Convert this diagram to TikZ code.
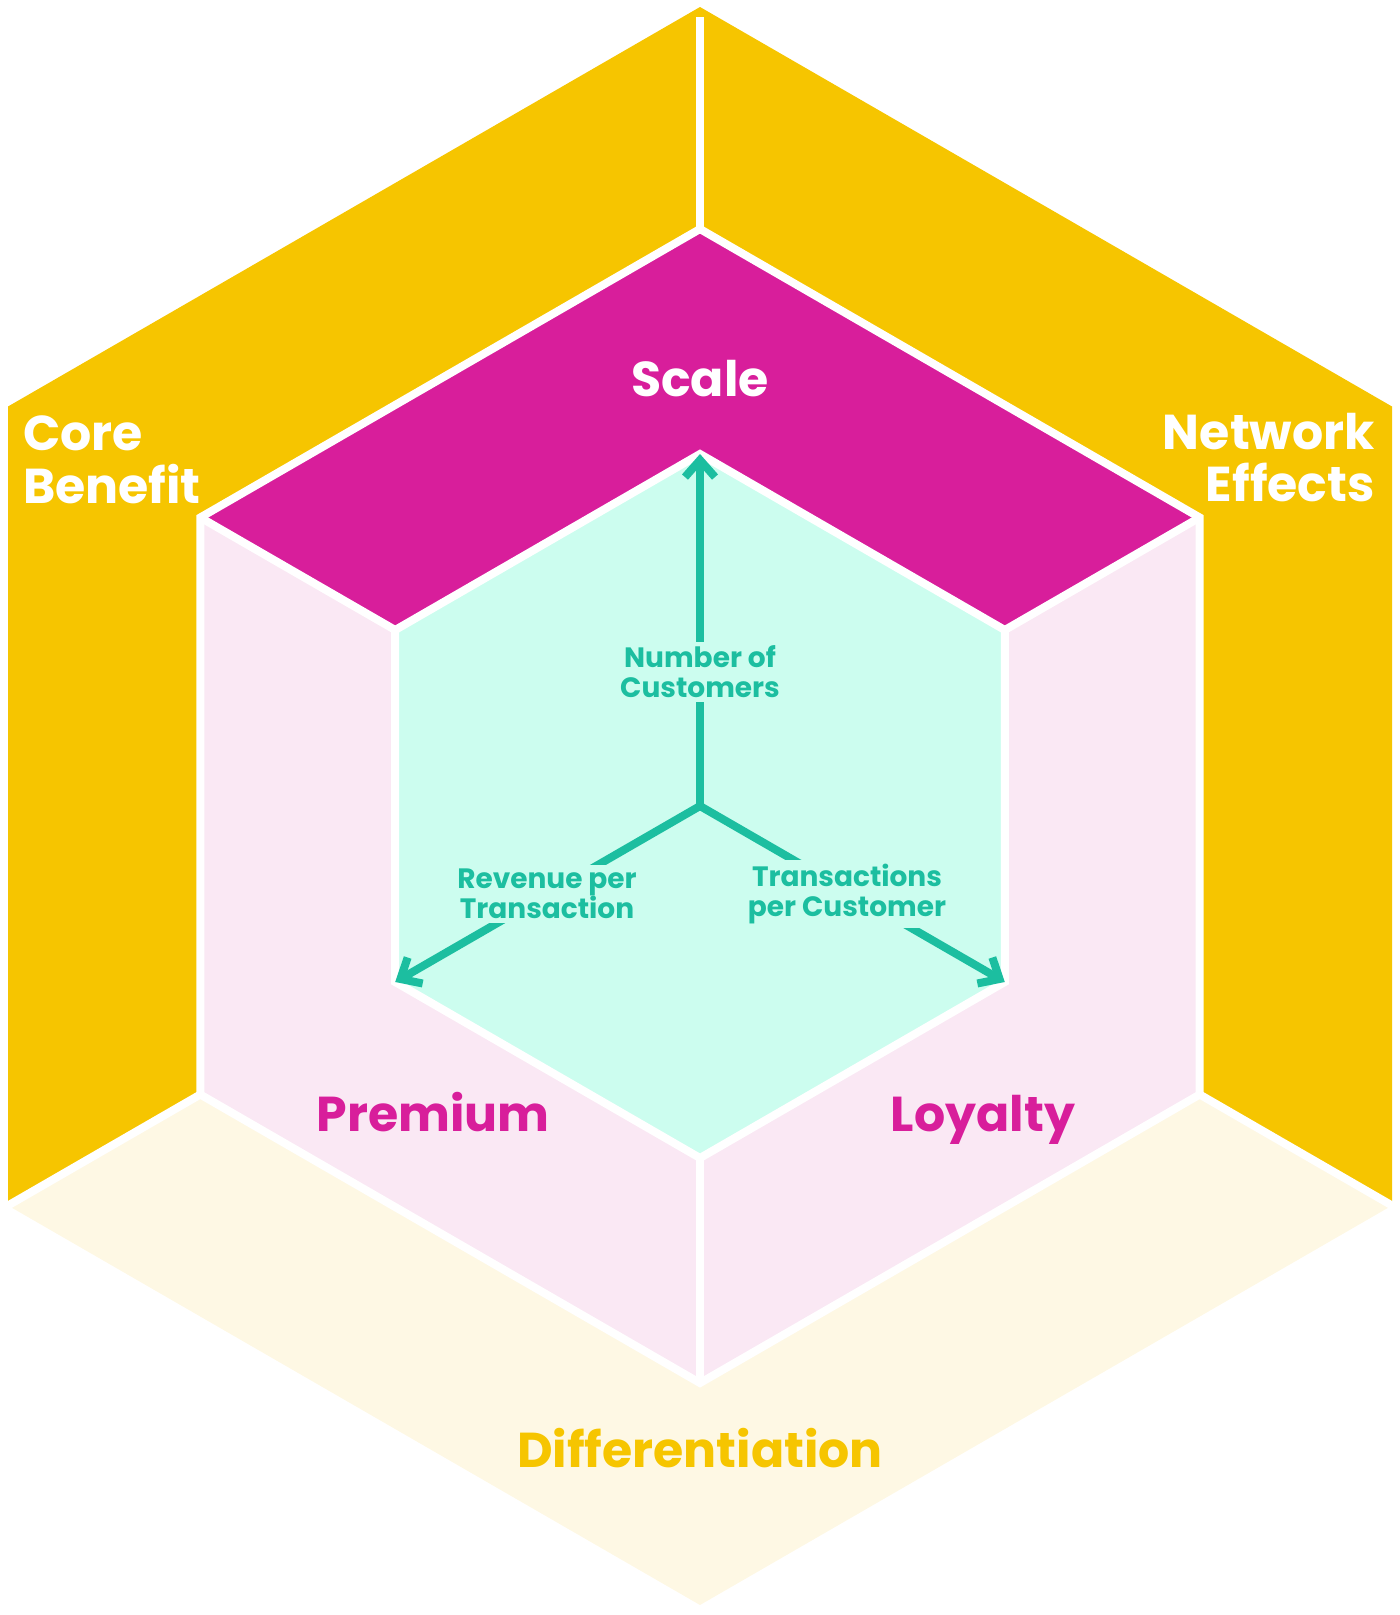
\documentclass[tikz,border=0pt]{standalone}
\usepackage{fontspec}
\setmainfont{Poppins}
\usetikzlibrary{arrows.meta}

\definecolor{gold}{RGB}{246,197,0}
\definecolor{paleGold}{RGB}{254,248,228}
\definecolor{magentaFace}{RGB}{216,30,155}
\definecolor{palePink}{RGB}{250,232,244}
\definecolor{mint}{RGB}{204,253,239}
\definecolor{teal}{RGB}{28,190,160}

\tikzset{
  seam/.style={draw=white, line width=8pt, line join=miter, line cap=butt},
  bigtext/.style={inner sep=0pt, font=\bfseries\fontsize{49}{53}\selectfont},
  axis/.style={draw=teal, line width=8pt, line cap=butt,
    -{Straight Barb[length=17pt,width=30pt,sharp]}},
  axislabel/.style={fill=mint, text=teal, align=center, inner sep=4pt,
    font=\bfseries\fontsize{28}{30}\selectfont},
}

\begin{document}
\begin{tikzpicture}[x=1pt,y=-1pt]
  \useasboundingbox (0,0) rectangle (1400,1615);

  % outer hexagon
  \coordinate (OT)  at (700,7);
  \coordinate (OUR) at (1392,406.5);
  \coordinate (OLR) at (1392,1205.5);
  \coordinate (OB)  at (700,1605);
  \coordinate (OLL) at (8,1205.5);
  \coordinate (OUL) at (8,406.5);
  % middle hexagon
  \coordinate (MT)  at (700,229);
  \coordinate (MUR) at (1199.7,517.5);
  \coordinate (MLR) at (1199.7,1094.5);
  \coordinate (MB)  at (700,1383);
  \coordinate (MLL) at (200.3,1094.5);
  \coordinate (MUL) at (200.3,517.5);
  % inner hexagon
  \coordinate (IT)  at (700,454);
  \coordinate (IUR) at (1004.8,630);
  \coordinate (ILR) at (1004.8,982);
  \coordinate (IB)  at (700,1158);
  \coordinate (ILL) at (395.2,982);
  \coordinate (IUL) at (395.2,630);
  % origin of the three axes
  \coordinate (ctr) at (700,806);

  % outer ring faces
  \fill[gold] (OT) -- (OUL) -- (OLL) -- (MLL) -- (MUL) -- (MT) -- cycle;
  \fill[gold] (OT) -- (MT) -- (MUR) -- (MLR) -- (OLR) -- (OUR) -- cycle;
  \fill[paleGold] (OLL) -- (OB) -- (OLR) -- (MLR) -- (MB) -- (MLL) -- cycle;

  % middle ring faces
  \fill[magentaFace] (MT) -- (MUL) -- (IUL) -- (IT) -- (IUR) -- (MUR) -- cycle;
  \fill[palePink] (MUL) -- (MLL) -- (MB) -- (IB) -- (ILL) -- (IUL) -- cycle;
  \fill[palePink] (MUR) -- (IUR) -- (ILR) -- (IB) -- (MB) -- (MLR) -- cycle;

  % inner face
  \fill[mint] (IT) -- (IUR) -- (ILR) -- (IB) -- (ILL) -- (IUL) -- cycle;

  % white seams
  \draw[seam] (MT) -- (MUR) -- (MLR) -- (MB) -- (MLL) -- (MUL) -- cycle;
  \draw[seam] (IT) -- (IUR) -- (ILR) -- (IB) -- (ILL) -- (IUL) -- cycle;
  \draw[seam] ([yshift=-10pt]OT) -- (MT);
  \draw[seam] (MLL) -- ([shift={(-9,5.2)}]OLL);
  \draw[seam] (MLR) -- ([shift={(9,5.2)}]OLR);
  \draw[seam] (MUL) -- (IUL);
  \draw[seam] (MUR) -- (IUR);
  \draw[seam] (MB) -- (IB);

  % axes
  \draw[axis] (ctr) -- (IT);
  \draw[axis] (ctr) -- (ILL);
  \draw[axis] (ctr) -- (ILR);

  \node[axislabel] (customers) at (700,672) {Number of\\Customers};
  \node[axislabel] (revenue) at (547,894) {Revenue per\\Transaction};
  \node[axislabel] (transactions) at (847,894) {Transactions\\per Customer};

  % face titles
  \node[bigtext, text=white, anchor=base west] (core1) at (23,450) {Core};
  \node[bigtext, text=white, anchor=base west] (core2) at (23,503) {Benefit};
  \node[bigtext, text=white, anchor=base east] (net1) at (1375,449) {Network};
  \node[bigtext, text=white, anchor=base east] (net2) at (1375,501) {Effects};
  \node[bigtext, text=white, anchor=base] (scale) at (700,396) {Scale};
  \node[bigtext, text=magentaFace, anchor=base] (premium) at (433,1131) {Premium};
  \node[bigtext, text=magentaFace, anchor=base] (loyalty) at (983,1131) {Loyalty};
  \node[bigtext, text=gold, anchor=base] (diff) at (700,1467) {Differentiation};
\end{tikzpicture}
\end{document}
